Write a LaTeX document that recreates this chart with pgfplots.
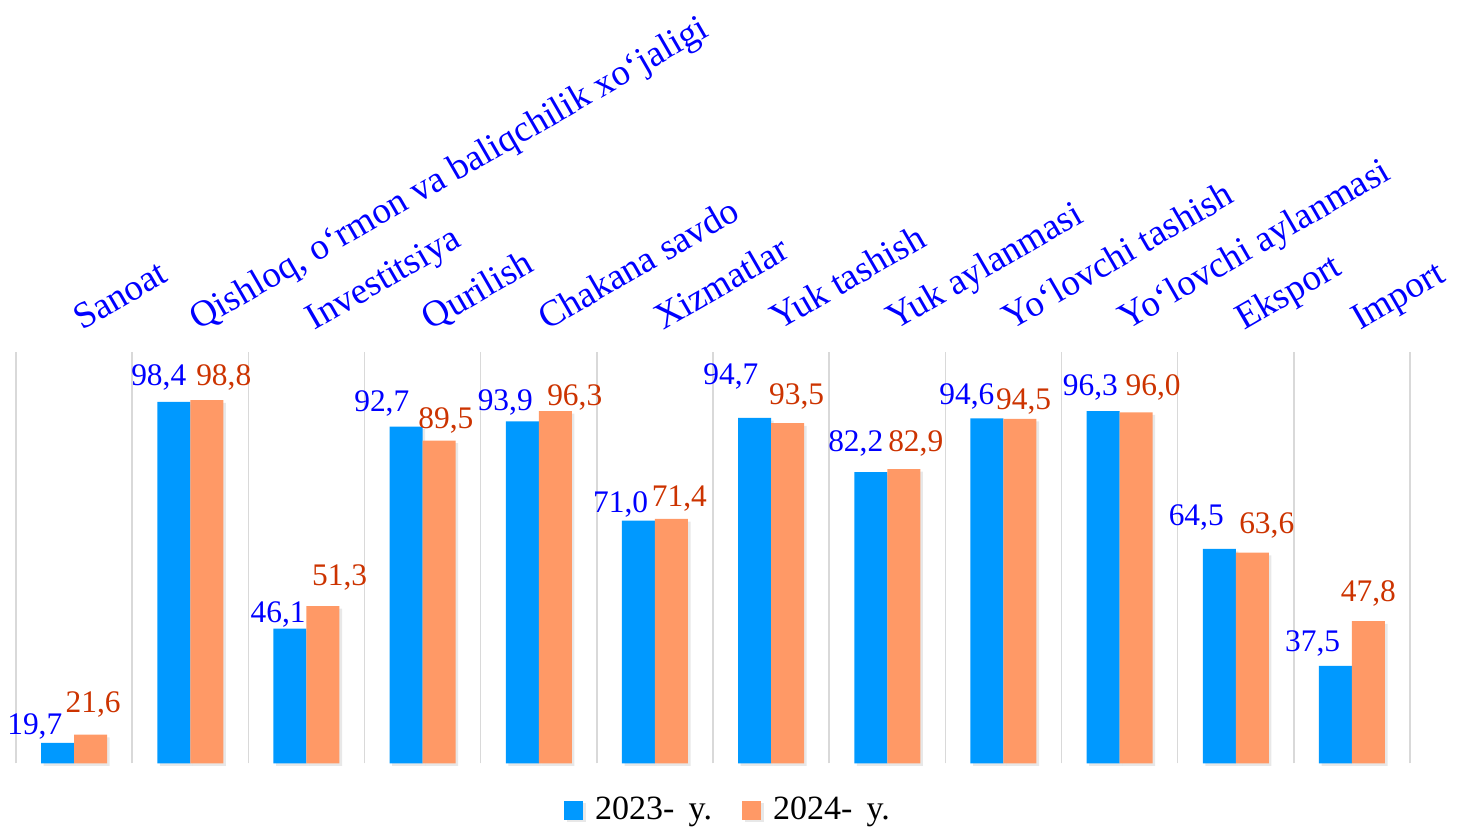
\documentclass[border=0pt]{standalone}
\usepackage{fontspec}
\setmainfont{Liberation Serif}
\usepackage{pgfplots}
\pgfplotsset{compat=1.18}
\usepackage{pgfplotstable}
\usetikzlibrary{shadows}
\definecolor{bar23}{HTML}{0099FF}
\definecolor{bar24}{HTML}{FF9966}
\definecolor{lab23}{HTML}{0000FF}
\definecolor{lab24}{HTML}{CC3300}
\definecolor{gridc}{HTML}{D9D9D9}

% value, label shift (pt) relative to bar top
\pgfplotstableread{
x y dx dy
0 19.7 -11.4 4.15
1 98.4 -7.5 8.35
2 46.1 -5.85 2.8
3 92.7 -12.15 7.5
4 93.9 -8.5 5.5
5 71.0 -8.85 4
6 94.7 -11.85 16.5
7 82.2 -7.5 10.5
8 94.6 -10 7
9 96.3 -6.35 8
10 64.5 -11.5 11.5
11 37.5 -11.35 7
}\tblA
\pgfplotstableread{
x y dx dy
0 21.6 1.25 10.85
1 98.8 8.5 7.5
2 51.3 8.35 10.5
3 89.5 3.4 5.85
4 96.3 9.75 3
5 71.4 4 6.15
6 93.5 4.5 9.5
7 82.9 6 9
8 94.5 1.85 4.85
9 96.0 8.5 8.5
10 63.6 7.25 9.5
11 47.8 0 10
}\tblB
\pgfplotstableread{
x y lab
0 110 Sanoat
1 110 {Qishloq, o‘rmon va baliqchilik xo‘jaligi}
2 110 Investitsiya
3 110 Qurilish
4 110 {Chakana savdo}
5 110 Xizmatlar
6 110 {Yuk tashish}
7 110 {Yuk aylanmasi}
8 110 {Yo‘lovchi tashish}
9 110 {Yo‘lovchi aylanmasi}
10 110 Eksport
11 110 Import
}\tblL

\begin{document}
\begin{tikzpicture}
\path[use as bounding box] (-8pt,-32.35pt) rectangle (724pt,381.65pt);
\begin{axis}[
  at={(0pt,0pt)}, anchor=south west,
  scale only axis,
  width=697pt, height=205.8pt,
  xmin=-0.5, xmax=11.5,
  ymin=15, ymax=110,
  clip=false,
  axis line style={draw=none},
  xtick={-0.5,0.5,...,11.5}, xticklabels={},
  ytick=\empty,
  major tick length=0pt,
  xmajorgrids,
  major grid style={draw=gridc, line width=0.8pt},
  /pgf/number format/.cd, use comma, fixed, fixed zerofill, precision=1, assume math mode=true,
  /pgfplots/.cd,
  legend columns=2,
  legend style={at={(0.5115,-0.1135)}, anchor=center, draw=none, fill=none,
    font=\fontsize{17}{19}\selectfont,
    /tikz/every odd column/.append style={column sep=4pt},
    /tikz/every even column/.append style={column sep=13pt}},
  legend image code/.code={\fill[#1,draw=none] (0pt,-4.75pt) rectangle (9.5pt,4.75pt);},
]
\addplot[ybar, bar width=16.5pt, bar shift=-8.25pt, fill=bar23, draw=none,
  drop shadow={shadow xshift=1.3pt, shadow yshift=-1.3pt, opacity=0.18},
  visualization depends on={\thisrow{dx} \as \dx},
  visualization depends on={\thisrow{dy} \as \dy},
  nodes near coords,
  every node near coord/.append style={xshift={\dx pt-8.25pt}, yshift=\dy pt, anchor=base,
    text=lab23, font=\fontsize{15.7}{18}\selectfont}]
  table[x=x, y=y] {\tblA};
\addlegendentry{2023-\hspace{0.42em}y.}
\addplot[ybar, bar width=16.5pt, bar shift=8.25pt, fill=bar24, draw=none,
  drop shadow={shadow xshift=1.3pt, shadow yshift=-1.3pt, opacity=0.18},
  visualization depends on={\thisrow{dx} \as \dx},
  visualization depends on={\thisrow{dy} \as \dy},
  nodes near coords,
  every node near coord/.append style={xshift={\dx pt+8.25pt}, yshift=\dy pt, anchor=base,
    text=lab24, font=\fontsize{15.7}{18}\selectfont}]
  table[x=x, y=y] {\tblB};
\addlegendentry{2024-\hspace{0.42em}y.}
\addplot[forget plot, draw=none, mark=none,
  point meta=explicit symbolic,
  nodes near coords,
  every node near coord/.append style={xshift=4pt, yshift=10.35pt, rotate=30,
    anchor=base west, inner sep=0pt, text=lab23, font=\fontsize{18.5}{21}\selectfont}]
  table[x=x, y=y, meta=lab] {\tblL};
\end{axis}
\end{tikzpicture}
\end{document}
